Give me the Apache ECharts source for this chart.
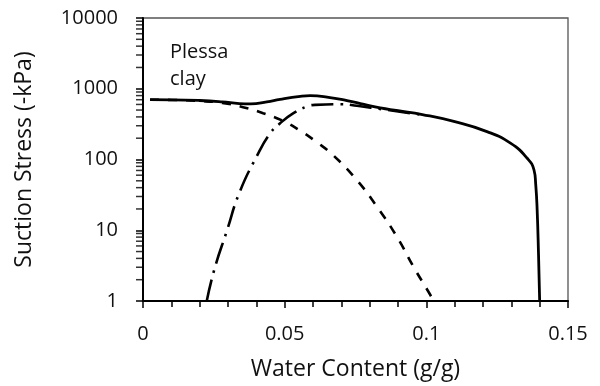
<!DOCTYPE html>
<html>
<head>
<meta charset="utf-8">
<script src="https://cdn.jsdelivr.net/npm/echarts@6/dist/echarts.min.js"></script>
<style>html,body{margin:0;padding:0;background:#fff;}#c{width:600px;height:386px;}</style>
</head>
<body>
<div id="c"></div>
<script>
// Data
const totalCurve = [[0.0025,700],[0.01,698],[0.02,682],[0.028,652],[0.034,618],[0.038,612],[0.0437,652],[0.0484,708],[0.0555,780],[0.059,798],[0.066,750],[0.072,680],[0.078,600],[0.0837,535],[0.09,490],[0.0986,432],[0.1097,345],[0.1214,248],[0.1297,170],[0.1356,104],[0.138,71],[0.1386,45],[0.1391,20],[0.1396,4.5],[0.14,1]];
const dashedCurve = [[0.0025,700],[0.01,695],[0.02,670],[0.028,630],[0.0353,549],[0.0424,451],[0.0495,350],[0.0555,255],[0.061,180],[0.0671,115],[0.0755,51],[0.0826,21.5],[0.0896,8.1],[0.0955,3.03],[0.1008,1.34],[0.1026,1]];
const dashDotCurve = [[0.0225,1],[0.0252,2.81],[0.0296,9.8],[0.034,33.8],[0.0402,112],[0.0449,235],[0.0484,326],[0.0531,451],[0.0578,560],[0.0608,592],[0.0696,603],[0.0755,575],[0.0837,518],[0.0986,428]];
const yMinorTicks = [2,3,4,5,6,7,8,9,20,30,40,50,60,70,80,90,200,300,400,500,600,700,800,900,2000,3000,4000,5000,6000,7000,8000,9000];
const xTitle = 'Water Content (g/g)';
const yTitle = 'Suction Stress (-kPa)';
const label = 'Plessa\nclay';

const FONT = 'Open Sans';
const chart = echarts.init(document.getElementById('c'), null, {renderer:'canvas'});
chart.setOption({
  animation: false,
  backgroundColor: '#fff',
  grid: {left:143, right:32, top:18, bottom:85, show:true, borderColor:'#555', borderWidth:1.3, outerBoundsMode:'none', containLabel:false},
  graphic: [{type:'text', left:170, top:39, style:{text:label, font:'20px "Open Sans"', fill:'#111', lineHeight:27}}],
  xAxis: {
    type:'value', min:0, max:0.15, interval:0.05,
    name:xTitle, nameLocation:'middle', nameGap:57,
    nameTextStyle:{fontFamily:FONT, fontSize:23, color:'#111'},
    axisLine:{show:true, onZero:false, lineStyle:{color:'#000', width:2}},
    axisTick:{show:true, length:7, lineStyle:{color:'#000', width:1.5}},
    minorTick:{show:true, splitNumber:5, length:6, lineStyle:{color:'#000', width:1.5}},
    axisLabel:{fontFamily:FONT, fontSize:20, color:'#111', margin:23},
    splitLine:{show:false}
  },
  yAxis: {
    type:'log', logBase:10, min:1, max:10000,
    name:yTitle, nameLocation:'middle', nameGap:107, nameRotate:90,
    nameTextStyle:{fontFamily:FONT, fontSize:23, color:'#111'},
    axisLine:{show:true, onZero:false, lineStyle:{color:'#000', width:2}},
    axisTick:{show:true, length:7, lineStyle:{color:'#000', width:1.5}},
    axisLabel:{fontFamily:FONT, fontSize:20, color:'#111', margin:25, formatter:function(v){return String(Math.round(v));}},
    splitLine:{show:false}
  },
  series: [
    {type:'line', data:totalCurve, showSymbol:false, smooth:0.5, lineStyle:{color:'#000', width:2.8, type:'solid', join:'round'}, z:5},
    {type:'line', data:dashedCurve, showSymbol:false, smooth:0.5, lineStyle:{color:'#000', width:2.6, type:[9,9]}, z:4},
    {type:'line', data:dashDotCurve, showSymbol:false, smooth:0.5, lineStyle:{color:'#000', width:2.6, type:[22,7,2.5,7]}, z:4},
    {type:'scatter', data:yMinorTicks.map(function(v){return [0,v];}), symbol:'rect', symbolSize:[6,1.5], symbolOffset:[-4,0], clip:false, silent:true, itemStyle:{color:'#000'}, z:6}
  ]
});
</script>
</body>
</html>
